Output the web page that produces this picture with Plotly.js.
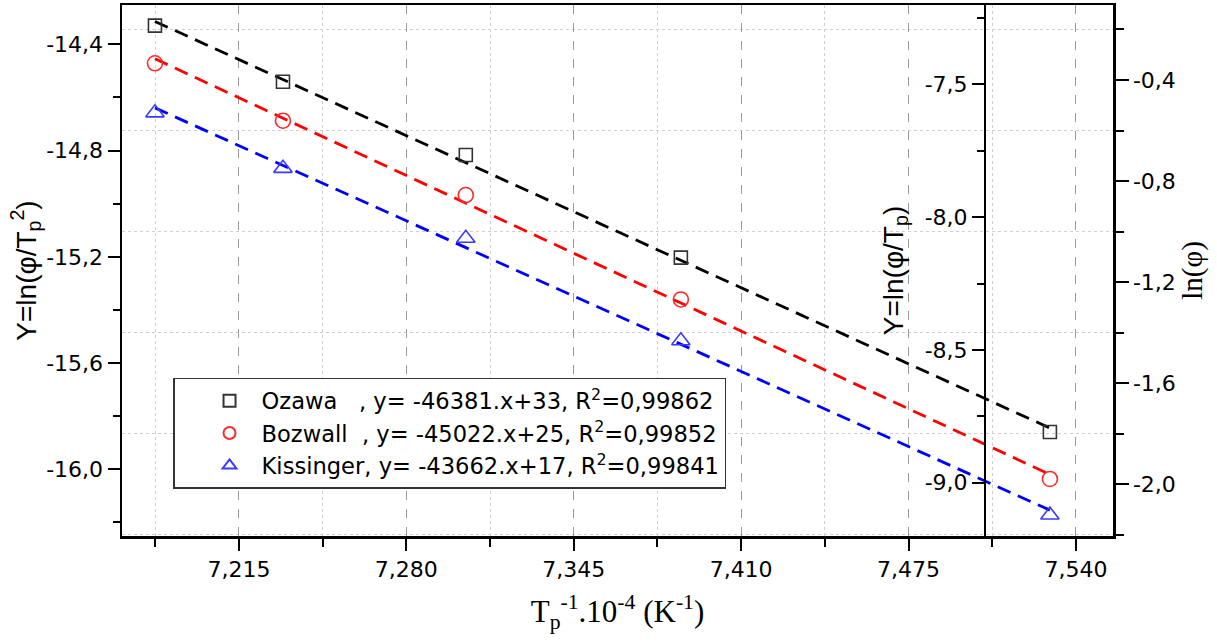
<!DOCTYPE html>
<html><head><meta charset="utf-8">
<script src="https://cdn.plot.ly/plotly-3.0.1.min.js"></script>
<style>html,body{margin:0;padding:0;background:#fff}</style>
</head><body>
<div id="chart" style="width:1217px;height:644px"></div>
<script>
// ---- data ----
const xValues = [7.1824, 7.2321, 7.3031, 7.3866, 7.5299];          // Tp^-1 . 10^-4 (K^-1)
const ozawaLnPhi = [-0.185, -0.407, -0.697, -1.103, -1.793];        // right axis ln(φ)
const bozwallLnPhiT = [-7.421, -7.637, -7.917, -8.310, -8.986];     // middle axis ln(φ/Tp)
const kissingerLnPhiT2 = [-14.658, -14.867, -15.130, -15.516, -16.172]; // left axis ln(φ/Tp²)

const seriesNames = [
  'Ozawa\u00A0\u00A0\u00A0, y= -46381.x+33, R<sup>2</sup>=0,99862',
  'Bozwall\u00A0\u00A0, y= -45022.x+25, R<sup>2</sup>=0,99852',
  'Kissinger, y= -43662.x+17, R<sup>2</sup>=0,99841'
];

const xTickVals = [7.215, 7.280, 7.345, 7.410, 7.475, 7.540];
const xTickText = ['7,215', '7,280', '7,345', '7,410', '7,475', '7,540'];
const leftTickVals = [-14.4, -14.8, -15.2, -15.6, -16.0];
const leftTickText = ['-14,4', '-14,8', '-15,2', '-15,6', '-16,0'];
const midTickVals = [-7.5, -8.0, -8.5, -9.0];
const midTickText = ['-7,5', '-8,0', '-8,5', '-9,0'];
const rightTickVals = [-0.4, -0.8, -1.2, -1.6, -2.0];
const rightTickText = ['-0,4', '-0,8', '-1,2', '-1,6', '-2,0'];

// least-squares fit line drawn across the data range
function fitLine(xs, ys) {
  const n = xs.length;
  const mx = xs.reduce((a, b) => a + b, 0) / n;
  const my = ys.reduce((a, b) => a + b, 0) / n;
  let sxy = 0, sxx = 0;
  for (let i = 0; i < n; i++) { sxy += (xs[i] - mx) * (ys[i] - my); sxx += (xs[i] - mx) ** 2; }
  const b = sxy / sxx, a = my - b * mx;
  const x0 = Math.min(...xs), x1 = Math.max(...xs);
  return { x: [x0, x1], y: [a + b * x0, a + b * x1] };
}

const fO = fitLine(xValues, ozawaLnPhi);
const fB = fitLine(xValues, bozwallLnPhiT);
const fK = fitLine(xValues, kissingerLnPhiT2);
const dashStyle = '14px,8px';

const traces = [
  { x: fK.x, y: fK.y, yaxis: 'y', mode: 'lines', showlegend: false, hoverinfo: 'skip',
    line: { color: '#0000ff', width: 2.8, dash: dashStyle } },
  { x: fB.x, y: fB.y, yaxis: 'y2', mode: 'lines', showlegend: false, hoverinfo: 'skip',
    line: { color: '#ff0000', width: 2.8, dash: dashStyle } },
  { x: fO.x, y: fO.y, yaxis: 'y3', mode: 'lines', showlegend: false, hoverinfo: 'skip',
    line: { color: '#000000', width: 2.8, dash: dashStyle } },
  { x: xValues, y: ozawaLnPhi, yaxis: 'y3', mode: 'markers', name: seriesNames[0], legendrank: 1,
    marker: { symbol: 'square-open', size: 13, color: '#333333', line: { width: 1.6 } } },
  { x: xValues, y: bozwallLnPhiT, yaxis: 'y2', mode: 'markers', name: seriesNames[1], legendrank: 2,
    marker: { symbol: 'circle-open', size: 15, color: '#ff2a2a', line: { width: 1.6 } } },
  { x: xValues, y: kissingerLnPhiT2, yaxis: 'y', mode: 'markers', name: seriesNames[2], legendrank: 3,
    marker: { symbol: 'triangle-up-open', size: 16, color: '#3a3aff', line: { width: 1.6 } } }
];

const sans = 'DejaVu Sans, Verdana, sans-serif';
const tickFont = { family: sans, size: 22, color: '#000' };

const layout = {
  width: 1217, height: 644, autosize: false,
  margin: { l: 122, r: 104, t: 5, b: 108, pad: 0 },
  paper_bgcolor: '#fff', plot_bgcolor: '#fff',
  font: { family: sans, color: '#000', size: 22 },
  showlegend: true,
  legend: {
    x: 0.0515, y: 0.2976, xanchor: 'left', yanchor: 'top',
    bgcolor: '#fff', bordercolor: '#333', borderwidth: 1.5,
    font: { family: sans, size: 22.6, color: '#000' },
    tracegroupgap: 0, itemsizing: 'constant', indentation: 23, itemwidth: 54
  },
  xaxis: {
    range: [7.1696, 7.5544],
    tickmode: 'array', tickvals: xTickVals, ticktext: xTickText,
    ticks: 'outside', ticklen: 12, tickwidth: 2, tickcolor: '#000',
    showline: true, linewidth: 2.5, linecolor: '#000', mirror: true,
    showgrid: true, gridcolor: '#9a9a9a', gridwidth: 1, griddash: 'dash',
    minor: { tickmode: 'linear', tick0: 7.1825, dtick: 0.065, ticks: 'outside', ticklen: 8, tickwidth: 2, tickcolor: '#000',
             showgrid: true, gridcolor: '#cfcfcf', gridwidth: 1, griddash: 'dot' },
    zeroline: false, tickfont: tickFont,
    title: { text: 'T<sub>p</sub><sup>-1</sup>.10<sup>-4</sup> (K<sup>-1</sup>)', standoff: 20,
             font: { family: 'Liberation Serif, Times New Roman, serif', size: 31, color: '#000' } }
  },
  yaxis: {
    range: [-16.251, -14.252],
    tickmode: 'array', tickvals: leftTickVals, ticktext: leftTickText,
    ticks: 'outside', ticklen: 12, tickwidth: 2, tickcolor: '#000',
    showline: true, linewidth: 2.5, linecolor: '#000',
    showgrid: false, zeroline: false, tickfont: tickFont,
    minor: { tickmode: 'linear', tick0: -14.6, dtick: 0.4, ticks: 'outside', ticklen: 7, tickwidth: 2, tickcolor: '#000' },
    title: { text: 'Y=ln(φ/T<sub>p</sub><sup>2</sup>)', standoff: 2,
             font: { family: 'Liberation Sans, Arial, sans-serif', size: 28, color: '#000' } }
  },
  yaxis2: {
    overlaying: 'y', anchor: 'free', position: 0.8708, side: 'left',
    range: [-9.2007, -7.2014],
    tickmode: 'array', tickvals: midTickVals, ticktext: midTickText,
    ticks: 'outside', ticklen: 12, tickwidth: 2, tickcolor: '#000',
    showline: true, linewidth: 2.5, linecolor: '#000',
    showgrid: false, zeroline: false, tickfont: tickFont,
    minor: { tickmode: 'linear', tick0: -7.25, dtick: 0.5, ticks: 'outside', ticklen: 7, tickwidth: 2, tickcolor: '#000' },
    title: { text: 'Y=ln(φ/T<sub>p</sub>)', standoff: 12,
             font: { family: 'Liberation Sans, Arial, sans-serif', size: 28, color: '#000' } }
  },
  yaxis3: {
    overlaying: 'y', anchor: 'x', side: 'right',
    range: [-2.2046, -0.1033],
    tickmode: 'array', tickvals: rightTickVals, ticktext: rightTickText,
    ticks: 'outside', ticklen: 13, tickwidth: 2, tickcolor: '#000',
    showline: true, linewidth: 2.5, linecolor: '#000',
    showgrid: false, zeroline: false, tickfont: tickFont,
    minor: { tickmode: 'linear', tick0: -0.2, dtick: 0.4, ticks: 'outside', ticklen: 8, tickwidth: 2, tickcolor: '#000',
             showgrid: true, gridcolor: '#d0d0d0', gridwidth: 1, griddash: 'dot' },
    title: { text: 'ln(φ)', standoff: 2,
             font: { family: 'Liberation Serif, Times New Roman, serif', size: 29, color: '#000' } }
  }
};

Plotly.newPlot('chart', traces, layout, { displayModeBar: false, staticPlot: true });
</script>
</body></html>
